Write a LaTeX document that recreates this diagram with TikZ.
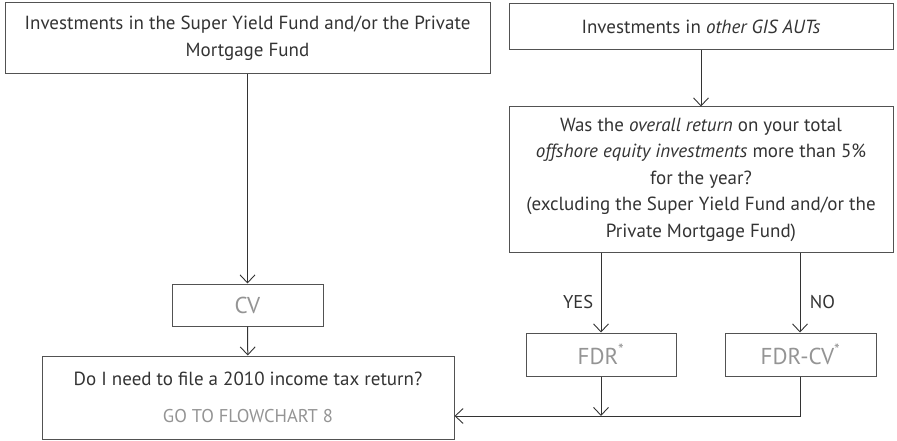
\documentclass[tikz,border=0pt]{standalone}
\usepackage{fontspec}
\setmainfont{PT Sans}
\usepackage{xcolor}
\usetikzlibrary{arrows.meta,positioning}
\definecolor{ink}{rgb}{0.2, 0.2, 0.2}
\definecolor{soft}{rgb}{0.58, 0.58, 0.58}

\begin{document}
\begin{tikzpicture}[x=1pt,y=-1pt,line width=1pt,
    box/.style={draw=ink!85,rectangle,inner sep=0pt,align=center,text=ink,
      font=\fontsize{19}{26.5}\selectfont},
    result/.style={box,text=soft,font=\fontsize{23}{26}\selectfont},
    tip/.style={-{Straight Barb[length=8pt,width=15pt,line width=0.9pt]}},
    lab/.style={text=ink,font=\fontsize{18.5}{20}\selectfont}]
    \useasboundingbox (0,0) rectangle (897,441);
    \node (1) at (247.5,38.5) [box,minimum width=485pt,minimum height=71pt] {Investments in the Super Yield Fund and/or the Private\\Mortgage Fund};
    \node (2) at (701,27)     [box,minimum width=384pt,minimum height=46pt] {Investments in \textit{other GIS AUTs}};
    \node (3) at (701,179.5)  [box,minimum width=384pt,minimum height=145pt] {Was the \textit{overall return} on your total\\\textit{offshore equity investments} more than 5\%\\for the year?\\(excluding the Super Yield Fund and/or the\\Private Mortgage Fund)};
    \node (4) at (247.5,305)  [result,minimum width=151pt,minimum height=42pt] {CV};
    \node (5) at (601,354.5)  [result,minimum width=150pt,minimum height=43pt] {FDR\textsuperscript{*}};
    \node (6) at (800.5,354.5)[result,minimum width=151pt,minimum height=43pt] {FDR-CV\textsuperscript{*}};
    \node (7) at (248,397.5)  [box,minimum width=412pt,minimum height=83pt,text=soft] {\textcolor{ink}{Do I need to file a 2010 income tax return?}\\[10pt]\fontsize{18.5}{20}\selectfont GO TO FLOWCHART 8};
    \coordinate (j1) at (601,416);
    \coordinate (j2) at (800,416);

    \draw [tip,draw=ink](1.south -| 4.north) -- (4.north);
    \draw [tip,draw=ink](4) -- (7);
    \draw [tip,draw=ink](2) -- (3);
    \draw [tip,draw=ink](3.south -| 5.north) -- node[lab,pos=0.62,left=4pt] {YES} (5.north);
    \draw [tip,draw=ink](3.south -| j2) -- node[lab,pos=0.62,right=6pt] {NO} (6.north -| j2);
    \draw [tip,draw=ink](5) -- (j1);
    \draw [tip,draw=ink](6.south -| j2) -- (j2) -- (7.east |- j2);
  \end{tikzpicture}
\end{document}
